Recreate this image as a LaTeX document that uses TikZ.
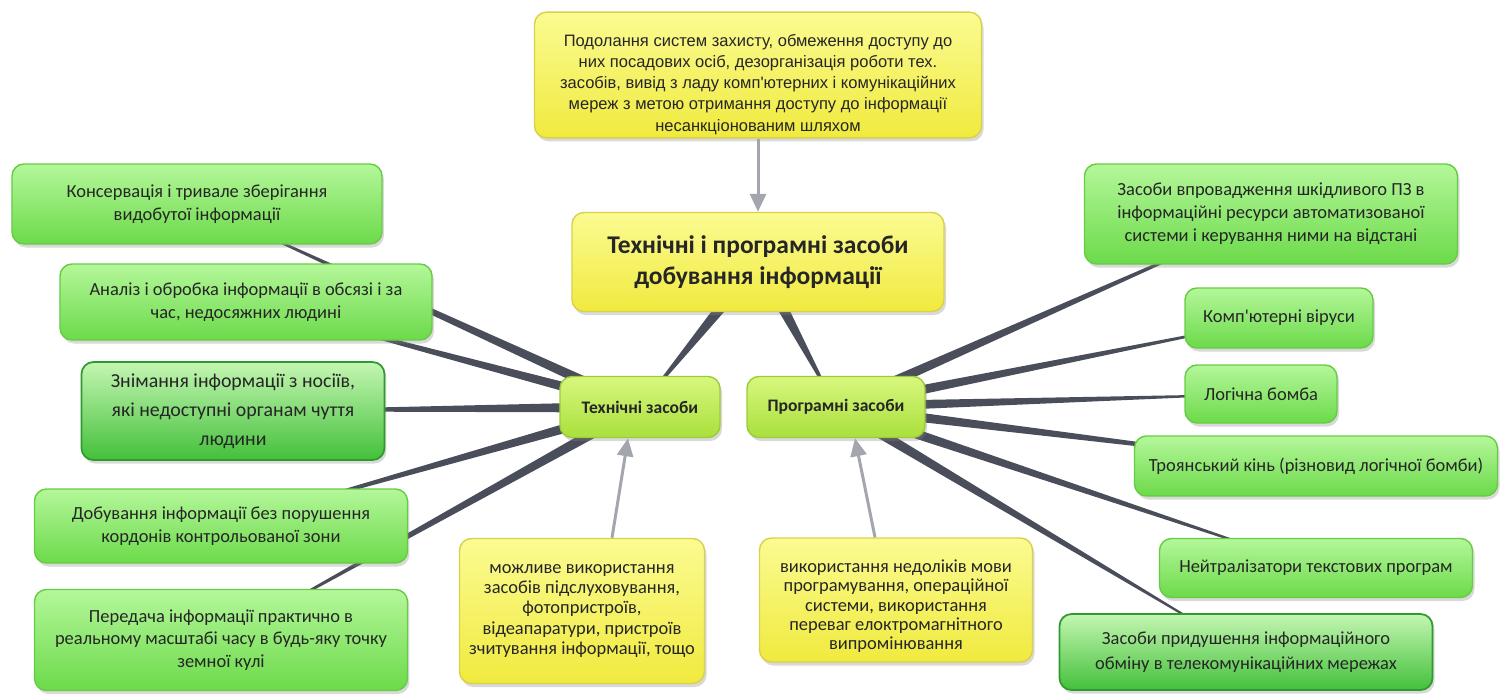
\documentclass[tikz,border=0pt]{standalone}
\usepackage{fontspec}
\setmainfont{Carlito}[Ligatures=TeXOff]
\newfontfamily\topfont{Liberation Sans}[Ligatures=TeXOff]
\usepackage{tikz}
\usetikzlibrary{arrows.meta,positioning,calc,shadows,backgrounds}

\definecolor{linkgray}{HTML}{4A4E5B}
\definecolor{arrowgray}{HTML}{A3A6AC}
\definecolor{inkcol}{HTML}{262626}
\definecolor{leaftop}{HTML}{B4F79A}
\definecolor{leafbot}{HTML}{6CDA4A}
\definecolor{leafline}{HTML}{66CC44}
\definecolor{darktop}{HTML}{C4F6B2}
\definecolor{darkbot}{HTML}{43C03A}
\definecolor{darkline}{HTML}{2F9A2F}
\definecolor{notetop}{HTML}{FBFB92}
\definecolor{notebot}{HTML}{F0EA3E}
\definecolor{noteline}{HTML}{D8D24A}
\definecolor{hubtop}{HTML}{D8F77E}
\definecolor{hubbot}{HTML}{A9E03C}
\definecolor{hubline}{HTML}{9CCB3A}

\newcommand{\spoke}[4]{%
  \fill[linkgray] ($(#1)!#3!90:(#2)$) -- ($(#2)!#4!-90:(#1)$)
    -- ($(#2)!#4!90:(#1)$) -- ($(#1)!#3!-90:(#2)$) -- cycle;}

\begin{document}
\begin{tikzpicture}[>={Triangle[length=0.36cm,width=0.32cm]},node distance=3cm,on grid]
    \tikzset{box/.style={rounded corners=0.24cm, line width=0.8pt, align=center, text=inkcol, inner sep=2pt,
        drop shadow={shadow xshift=0.04cm, shadow yshift=-0.07cm, opacity=0.3}}}
    \tikzset{leaf/.style={box, top color=leaftop, bottom color=leafbot, draw=leafline, font=\fontsize{10.5}{13}\selectfont}}
    \tikzset{leafdark/.style={box, top color=darktop, bottom color=darkbot, draw=darkline, line width=1pt}}
    \tikzset{note/.style={box, top color=notetop, bottom color=notebot, draw=noteline, font=\fontsize{10.5}{11.4}\selectfont}}
    \tikzset{hub/.style={box, top color=hubtop, bottom color=hubbot, draw=hubline, font=\bfseries\fontsize{10}{12}\selectfont}}
    \tikzset{pointer/.style={->, line width=0.06cm, draw=arrowgray}}

    \useasboundingbox (-15.16,-8.64) rectangle (14.84,5.24);

    \node[note, minimum width=7.44cm, minimum height=1.98cm, font=\bfseries\fontsize{14.5}{17.6}\selectfont] (main) at (0,0)
        {Технічні і програмні засоби\\добування інформації};
    \node[note, minimum width=8.94cm, minimum height=2.44cm, font=\topfont\fontsize{9.4}{12}\selectfont] (goal) [above=3.74cm of main]
        {\rule{0pt}{0.62cm}Подолання систем захисту, обмеження  доступу до\\них посадових осіб, дезорганізація роботи тех.\\засобів, вивід з ладу комп'ютерних і комунікаційних\\мереж з метою отримання доступу до  інформації\\несанкціонованим шляхом};
    \node[hub, minimum width=3.2cm, minimum height=1.22cm] (tech) [below left=2.90cm and 2.36cm of main] {Технічні засоби};
    \node[hub, minimum width=3.56cm, minimum height=1.22cm] (prog) [below right=2.90cm and 1.56cm of main] {Програмні засоби};

    \node[leaf, minimum width=7.4cm, minimum height=1.6cm] (keep) [above left=4.06cm and 8.86cm of tech]
        {Консервація і тривале зберігання\\видобутої інформації};
    \node[leaf, minimum width=7.44cm, minimum height=1.52cm] (analysis) [above left=2.10cm and 7.88cm of tech]
        {Аналіз і обробка  інформації в обсязі і за\\час, недосяжних людині};
    \node[leafdark, minimum width=6.06cm, minimum height=1.96cm, font=\fontsize{11.3}{16.5}\selectfont] (sensing) [below left=0.08cm and 8.14cm of tech]
        {Знімання інформації з носіїв,\\які недоступні органам чуття\\людини};
    \node[leaf, minimum width=7.46cm, minimum height=1.48cm] (remote) [below left=2.38cm and 8.38cm of tech]
        {Добування інформації без порушення\\кордонів контрольованої зони};
    \node[leaf, minimum width=7.46cm, minimum height=2.02cm] (transfer) [below left=4.66cm and 8.38cm of tech]
        {Передача інформації практично в\\реальному масштабі часу в будь-яку точку\\земної кулі};
    \node[note, minimum width=4.9cm, minimum height=2.9cm] (devices) [below left=4.08cm and 1.16cm of tech]
        {можливе використання\\засобів підслуховування,\\фотопристроїв,\\відеапаратури, пристроїв\\зчитування інформації, тощо};

    \node[leaf, minimum width=7.46cm, minimum height=2.0cm] (implant) [above right=3.86cm and 8.70cm of prog]
        {Засоби впровадження шкідливого ПЗ в\\інформаційні ресурси автоматизованої\\системи і керування ними на відстані};
    \node[leaf, minimum width=3.76cm, minimum height=1.2cm] (virus) [above right=1.78cm and 8.86cm of prog] {Комп'ютерні віруси};
    \node[leaf, minimum width=3.04cm, minimum height=1.16cm] (bomb) [above right=0.26cm and 8.50cm of prog] {Логічна бомба};
    \node[leaf, minimum width=7.26cm, minimum height=1.2cm] (trojan) [below right=1.18cm and 9.60cm of prog]
        {Троянський кінь (різновид логічної бомби)};
    \node[leaf, minimum width=6.26cm, minimum height=1.18cm] (neutral) [below right=3.22cm and 9.60cm of prog]
        {Нейтралізатори текстових програм};
    \node[leafdark, minimum width=7.46cm, minimum height=1.52cm, font=\fontsize{10.5}{14}\selectfont] (jamming) [below right=4.90cm and 8.20cm of prog]
        {Засоби придушення інформаційного\\обміну в телекомунікаційних мережах};
    \node[note, minimum width=5.46cm, minimum height=2.48cm, font=\fontsize{10.5}{11}\selectfont] (flaws) [below right=3.86cm and 1.20cm of prog]
        {\rule{0pt}{0.5cm}використання недоліків мови\\програмування, операційної\\системи, використання\\переваг елоктромагнітного\\випромінювання};

    \begin{scope}[on background layer]
      \spoke{main.center}{tech.center}{0.15cm}{0.005cm}
      \spoke{main.center}{prog.center}{0.15cm}{0.005cm}
      \foreach \leaf in {keep,analysis,sensing,remote,transfer}
        {\spoke{tech.center}{\leaf.center}{0.11cm}{0.005cm}}
      \foreach \leaf in {implant,virus,bomb,trojan,neutral,jamming}
        {\spoke{prog.center}{\leaf.center}{0.11cm}{0.005cm}}
    \end{scope}

    \draw[pointer] (goal) -- (main);
    \draw[pointer] ([xshift=0.6cm]devices.north) -- ([xshift=-0.24cm]tech.south);
    \draw[pointer] ([xshift=-0.42cm]flaws.north) -- ([xshift=0.38cm]prog.south);
\end{tikzpicture}
\end{document}
